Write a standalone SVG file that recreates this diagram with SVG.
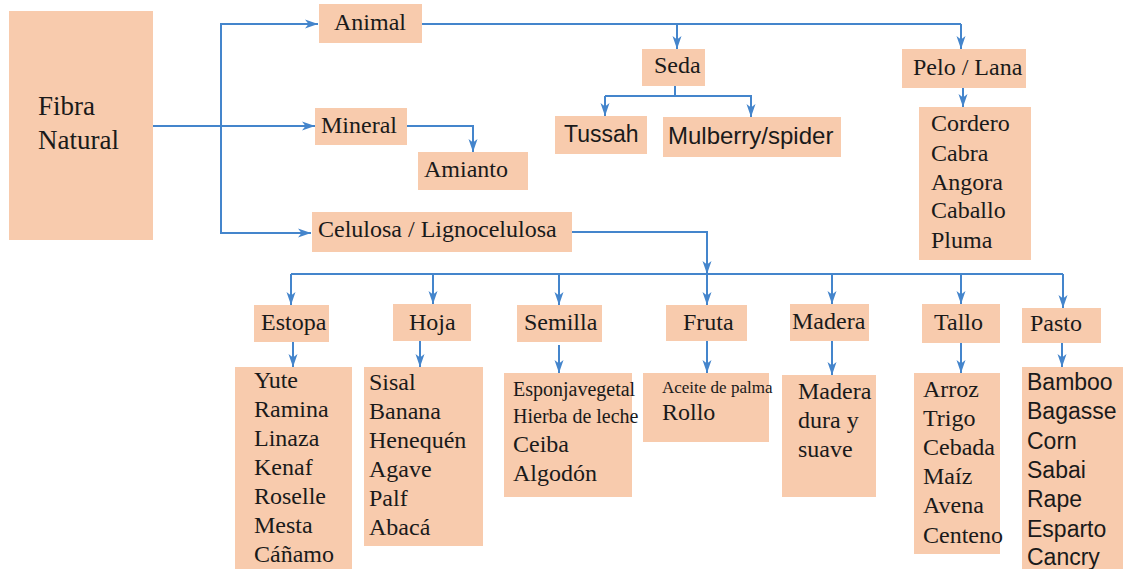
<svg xmlns="http://www.w3.org/2000/svg" width="1123" height="569" viewBox="0 0 1123 569">
<style>
.box{fill:#F8CBAD}
.t{font-family:"Liberation Serif",serif;font-size:24px;fill:#1a1a1a}
.s{font-family:"Liberation Sans",Arial,sans-serif;font-size:23px;fill:#1a1a1a}
.c{fill:none;stroke:#4485CC;stroke-width:2}
.a{marker-end:url(#arr)}
</style>
<defs>
<marker id="arr" markerUnits="userSpaceOnUse" markerWidth="14" markerHeight="10" refX="13" refY="5" orient="auto">
<path d="M0,0.5 L13,5 L0,9.5 L3.5,5 z" fill="#4485CC"/>
</marker>
</defs>
<rect width="1123" height="569" fill="#fff"/>

<g id="connectors">
<path class="c a" d="M153,126 H315"/>
<path class="c a" d="M221,126 V24 H318"/>
<path class="c a" d="M221,126 V233 H311"/>
<path class="c a" d="M407,126 H473 V152"/>
<path class="c" d="M422,24 H961"/>
<path class="c a" d="M677,24 V49"/>
<path class="c a" d="M961,24 V49"/>
<path class="c" d="M675,86 V96 H605"/>
<path class="c a" d="M605,96 V116"/>
<path class="c a" d="M675,96 H751 V117"/>
<path class="c a" d="M963,88 V107"/>
<path class="c a" d="M572,232 H707 V274"/>
<path class="c" d="M291,274 H1063"/>
<path class="c a" d="M291,274 V305"/>
<path class="c a" d="M433,274 V304"/>
<path class="c a" d="M559,274 V305"/>
<path class="c a" d="M707,274 V305"/>
<path class="c a" d="M832,274 V304"/>
<path class="c a" d="M961,274 V304"/>
<path class="c a" d="M1063,274 V308"/>
<path class="c a" d="M293,342 V367"/>
<path class="c a" d="M420,341 V367"/>
<path class="c a" d="M559,345 V373"/>
<path class="c a" d="M707,341 V373"/>
<path class="c a" d="M832,341 V375"/>
<path class="c a" d="M961,343 V373"/>
<path class="c a" d="M1062,343 V367"/>
</g>

<g id="fibra">
<rect class="box" x="9" y="11" width="144" height="229"/>
<text class="t" style="font-size:27px" x="38" y="115">Fibra</text>
<text class="t" style="font-size:27px" x="38" y="149">Natural</text>
</g>
<g id="animal">
<rect class="box" x="319" y="4" width="103" height="39"/>
<text class="t" x="334" y="30">Animal</text>
</g>
<g id="mineral">
<rect class="box" x="315" y="108" width="92" height="37"/>
<text class="t" x="321" y="133">Mineral</text>
</g>
<g id="amianto">
<rect class="box" x="418" y="152" width="110" height="38"/>
<text class="t" x="424" y="177">Amianto</text>
</g>
<g id="celulosa">
<rect class="box" x="312" y="212" width="260" height="40"/>
<text class="t" x="318" y="237">Celulosa / Lignocelulosa</text>
</g>
<g id="seda">
<rect class="box" x="642" y="49" width="63" height="37"/>
<text class="t" x="654" y="73">Seda</text>
</g>
<g id="pelo">
<rect class="box" x="902" y="49" width="124" height="39"/>
<text class="t" x="913" y="75">Pelo / Lana</text>
</g>
<g id="tussah">
<rect class="box" x="555" y="116" width="92" height="38"/>
<text class="s" x="564" y="142">Tussah</text>
</g>
<g id="mulberry">
<rect class="box" x="663" y="117" width="178" height="40"/>
<text class="s" style="font-size:24px" x="668" y="144">Mulberry/spider</text>
</g>
<g id="pelo-list">
<rect class="box" x="919" y="107" width="112" height="153"/>
<text class="t" x="931" y="131">Cordero</text>
<text class="t" x="931" y="161">Cabra</text>
<text class="t" x="931" y="190">Angora</text>
<text class="t" x="931" y="218">Caballo</text>
<text class="t" x="931" y="248">Pluma</text>
</g>

<g id="estopa">
<rect class="box" x="254" y="305" width="75" height="37"/>
<text class="t" x="261" y="330">Estopa</text>
</g>
<g id="hoja">
<rect class="box" x="393" y="304" width="78" height="37"/>
<text class="t" x="409" y="330">Hoja</text>
</g>
<g id="semilla">
<rect class="box" x="517" y="305" width="85" height="37"/>
<text class="t" x="524" y="330">Semilla</text>
</g>
<g id="fruta">
<rect class="box" x="666" y="305" width="81" height="36"/>
<text class="t" x="683" y="330">Fruta</text>
</g>
<g id="madera">
<rect class="box" x="790" y="304" width="79" height="37"/>
<text class="t" x="792" y="329">Madera</text>
</g>
<g id="tallo">
<rect class="box" x="922" y="304" width="78" height="39"/>
<text class="t" x="934" y="330">Tallo</text>
</g>
<g id="pasto">
<rect class="box" x="1022" y="308" width="79" height="35"/>
<text class="t" x="1030" y="331">Pasto</text>
</g>

<g id="estopa-list">
<rect class="box" x="235" y="367" width="117" height="202"/>
<text class="t" x="254" y="388">Yute</text>
<text class="t" x="254" y="417">Ramina</text>
<text class="t" x="254" y="446">Linaza</text>
<text class="t" x="254" y="475">Kenaf</text>
<text class="t" x="254" y="504">Roselle</text>
<text class="t" x="254" y="533">Mesta</text>
<text class="t" x="254" y="562">Cáñamo</text>
</g>
<g id="hoja-list">
<rect class="box" x="364" y="367" width="119" height="179"/>
<text class="t" x="369" y="390">Sisal</text>
<text class="t" x="369" y="419">Banana</text>
<text class="t" x="369" y="448">Henequén</text>
<text class="t" x="369" y="477">Agave</text>
<text class="t" x="369" y="506">Palf</text>
<text class="t" x="369" y="535">Abacá</text>
</g>
<g id="semilla-list">
<rect class="box" x="504" y="373" width="128" height="124"/>
<text class="t" style="font-size:20px" x="513" y="396">Esponjavegetal</text>
<text class="t" style="font-size:20px" x="513" y="423">Hierba de leche</text>
<text class="t" x="513" y="452">Ceiba</text>
<text class="t" x="513" y="481">Algodón</text>
</g>
<g id="fruta-list">
<rect class="box" x="643" y="373" width="126" height="69"/>
<text class="t" style="font-size:17px" x="662" y="393">Aceite de palma</text>
<text class="t" x="662" y="420">Rollo</text>
</g>
<g id="madera-list">
<rect class="box" x="782" y="375" width="94" height="122"/>
<text class="t" x="798" y="399">Madera</text>
<text class="t" x="798" y="428">dura y</text>
<text class="t" x="798" y="457">suave</text>
</g>
<g id="tallo-list">
<rect class="box" x="914" y="373" width="86" height="181"/>
<text class="t" x="923" y="397">Arroz</text>
<text class="t" x="923" y="426">Trigo</text>
<text class="t" x="923" y="455">Cebada</text>
<text class="t" x="923" y="484">Maíz</text>
<text class="t" x="923" y="513">Avena</text>
<text class="t" x="923" y="543">Centeno</text>
</g>
<g id="pasto-list">
<rect class="box" x="1022" y="367" width="101" height="202"/>
<text class="s" x="1027" y="390">Bamboo</text>
<text class="s" x="1027" y="419">Bagasse</text>
<text class="s" x="1027" y="449">Corn</text>
<text class="s" x="1027" y="478">Sabai</text>
<text class="s" x="1027" y="507">Rape</text>
<text class="s" x="1027" y="537">Esparto</text>
<text class="s" x="1027" y="565">Cancry</text>
</g>
</svg>
